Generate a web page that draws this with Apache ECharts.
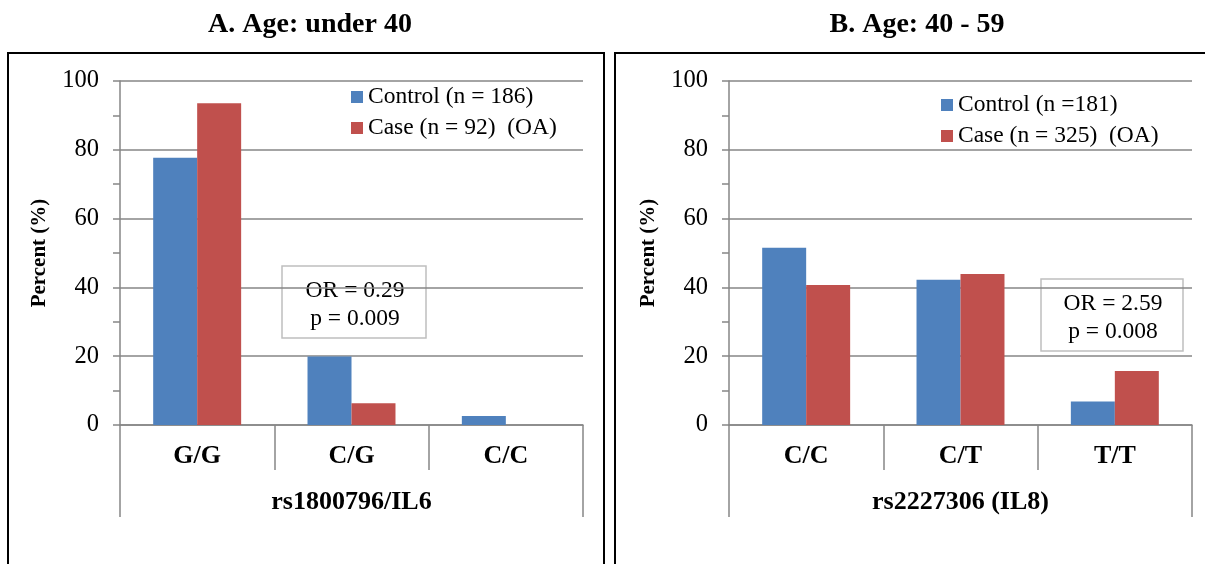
<!DOCTYPE html>
<html>
<head>
<meta charset="utf-8">
<script src="https://cdn.jsdelivr.net/npm/echarts@6/dist/echarts.min.js"></script>
<style>
  html, body { margin: 0; padding: 0; background: #fff; }
  #chart { width: 1205px; height: 564px; }
</style>
</head>
<body>
<div id="chart"></div>
<script>
const FONT = "'Liberation Serif', 'Times New Roman', serif";
const AXIS_GRAY = "#868686";
const BLUE = "#4F81BD";
const RED = "#C0504D";

// panel A: rs1800796 / IL6, age under 40
const genotypesA = ["G/G", "C/G", "C/C"];
const controlA = [77.7, 19.9, 2.6];
const caseA = [93.5, 6.3, 0];
const legendA = ["Control (n = 186)", "Case (n = 92)  (OA)"];

// panel B: rs2227306 / IL8, age 40 - 59
const genotypesB = ["C/C", "C/T", "T/T"];
const controlB = [51.5, 42.2, 6.8];
const caseB = [40.7, 43.9, 15.7];
const legendB = ["Control (n =181)", "Case (n = 325)  (OA)"];

const yTicks = [0, 20, 40, 60, 80, 100];

const chart = echarts.init(document.getElementById("chart"));

function yAxis(grid) {
  return {
    type: "value",
    gridIndex: grid,
    min: yTicks[0],
    max: yTicks[yTicks.length - 1],
    interval: yTicks[1] - yTicks[0],
    name: "Percent (%)",
    nameLocation: "middle",
    nameRotate: 90,
    nameGap: 70,
    nameTextStyle: { fontFamily: FONT, fontSize: 21, fontWeight: "bold", color: "#000" },
    axisLine: { show: true, lineStyle: { color: AXIS_GRAY, width: 1.5 } },
    axisTick: { show: true, inside: false, length: 7, lineStyle: { color: AXIS_GRAY, width: 1.5 } },
    minorTick: { show: true, splitNumber: 2, length: 7, lineStyle: { color: AXIS_GRAY, width: 1.5 } },
    axisLabel: { fontFamily: FONT, fontSize: 24.5, color: "#000", margin: 21 },
    splitLine: { show: true, lineStyle: { color: AXIS_GRAY, width: 1.5 } },
  };
}

function catAxis(grid, cats) {
  return {
    type: "category",
    gridIndex: grid,
    data: cats,
    position: "bottom",
    axisLine: { show: true, lineStyle: { color: AXIS_GRAY, width: 1.5 } },
    axisTick: { show: true, length: 45, lineStyle: { color: AXIS_GRAY, width: 1.5 } },
    axisLabel: { fontFamily: FONT, fontSize: 26, fontWeight: "bold", color: "#000", margin: 18 },
    splitLine: { show: false },
  };
}

// outer level of the two-level category axis (one group spanning all genotypes)
function groupAxis(grid, label) {
  return {
    type: "category",
    gridIndex: grid,
    data: [label],
    position: "bottom",
    axisLine: { show: false },
    axisTick: { show: true, length: 92, lineStyle: { color: AXIS_GRAY, width: 1.5 } },
    axisLabel: { fontFamily: FONT, fontSize: 26, fontWeight: "bold", color: "#000", margin: 64 },
    splitLine: { show: false },
  };
}

function bar(name, values, color, grid) {
  return {
    name: name,
    type: "bar",
    xAxisIndex: grid * 2,
    yAxisIndex: grid,
    data: values,
    barGap: "0%",
    barCategoryGap: "43%",
    itemStyle: { color: color },
    emphasis: { disabled: true },
  };
}

function legend(names, left, top) {
  return {
    data: names,
    orient: "vertical",
    left: left,
    top: top,
    itemWidth: 12,
    itemHeight: 12,
    itemGap: 7,
    padding: 0,
    icon: "rect",
    selectedMode: false,
    textStyle: { fontFamily: FONT, fontSize: 23.5, color: "#000" },
  };
}

function statBox(x, y, w, h, lines) {
  return {
    type: "group",
    children: [
      {
        type: "rect",
        shape: { x: x, y: y, width: w, height: h },
        style: { fill: "#fff", stroke: "#BFBFBF", lineWidth: 1.5 },
      },
      {
        type: "text",
        x: x + w / 2 + 1,
        y: y + h / 2 + 3,
        style: {
          text: lines.join("\n"),
          font: "23.5px " + FONT,
          fill: "#000",
          align: "center",
          verticalAlign: "middle",
          lineHeight: 28,
        },
      },
    ],
  };
}

const option = {
  backgroundColor: "#fff",
  animation: false,
  title: [
    {
      text: "A. Age: under 40",
      left: 305,
      top: 6,
      textAlign: "center",
      textStyle: { fontFamily: FONT, fontSize: 28, fontWeight: "bold", color: "#000" },
    },
    {
      text: "B. Age: 40 - 59",
      left: 912,
      top: 6,
      textAlign: "center",
      textStyle: { fontFamily: FONT, fontSize: 28, fontWeight: "bold", color: "#000" },
    },
  ],
  legend: [legend(legendA, 351, 85), legend(legendB, 941, 93)],
  grid: [
    { left: 120, top: 81, width: 463, height: 344 },
    { left: 729, top: 81, width: 463, height: 344 },
  ],
  xAxis: [
    catAxis(0, genotypesA),
    groupAxis(0, "rs1800796/IL6"),
    catAxis(1, genotypesB),
    groupAxis(1, "rs2227306 (IL8)"),
  ],
  yAxis: [yAxis(0), yAxis(1)],
  series: [
    bar(legendA[0], controlA, BLUE, 0),
    bar(legendA[1], caseA, RED, 0),
    bar(legendB[0], controlB, BLUE, 1),
    bar(legendB[1], caseB, RED, 1),
  ],
  graphic: [
    {
      type: "rect",
      shape: { x: 8, y: 53, width: 596, height: 530 },
      style: { fill: null, stroke: "#000", lineWidth: 2 },
      silent: true,
    },
    {
      type: "rect",
      shape: { x: 615, y: 53, width: 620, height: 530 },
      style: { fill: null, stroke: "#000", lineWidth: 2 },
      silent: true,
    },
    statBox(282, 266, 144, 72, ["OR = 0.29", "p = 0.009"]),
    statBox(1041, 279, 142, 72, ["OR = 2.59", "p = 0.008"]),
  ],
};

chart.setOption(option);
</script>
</body>
</html>
